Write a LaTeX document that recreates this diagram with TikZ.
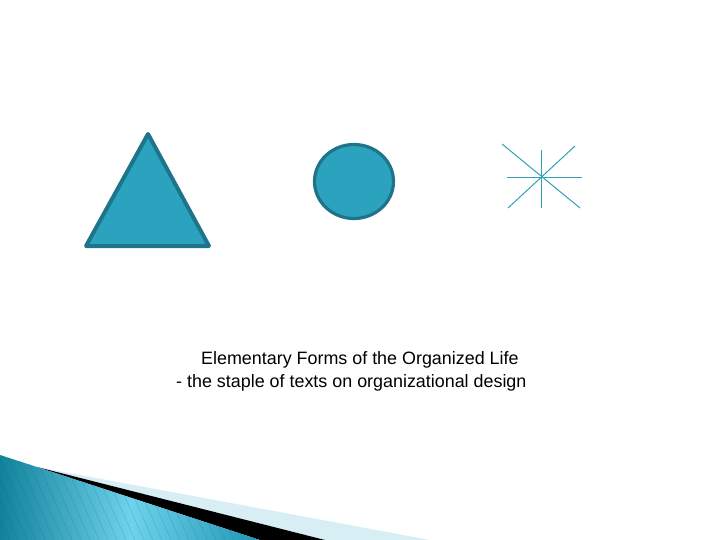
\documentclass[tikz,border=0pt]{standalone}
\usepackage{fontspec}
\setmainfont{Liberation Sans}
\definecolor{shapefill}{RGB}{44,163,190}
\definecolor{shapeedge}{RGB}{30,116,137}
\definecolor{starline}{RGB}{50,160,182}
\definecolor{tealdark}{RGB}{18,130,155}
\definecolor{teallight}{RGB}{110,210,235}
\definecolor{tealmid}{RGB}{30,150,180}
\definecolor{paleblue}{RGB}{215,238,245}
\tikzset{
  shapestyle/.style={fill=shapefill, draw=shapeedge, line width=4pt, line join=round},
  starstyle/.style={draw=starline, line width=1pt},
  starbar/.style={fill=starline},
  captext/.style={anchor=base west, inner sep=0pt, font=\fontsize{17.9}{21}\selectfont}
}
\begin{document}
\begin{tikzpicture}[x=1pt,y=-1pt]
\useasboundingbox (0,0) rectangle (720,540);
% triangle
\draw[shapestyle] (148,134) -- (209,246) -- (86,246) -- cycle;
% circle
\draw[shapestyle, line width=3.2pt] (354,181.5) ellipse [x radius=39.5, y radius=37];
% star
\fill[starbar] (507,176.6) rectangle (582,178.0);
\fill[starbar] (540.8,150) rectangle (542.2,208);
\draw[starstyle] (502,144) -- (580,208);
\draw[starstyle] (575,146) -- (508,208);
% caption
\node[captext] (l1) at (201,364) {Elementary Forms of the Organized Life};
\node[captext] (l2) at (176,387) {- the staple of texts on organizational design};
% bottom decoration
\fill[paleblue] (37,467) -- (430,540) -- (325,540) -- cycle;
\fill[black] (37,467) -- (325,540) -- (260,540) -- cycle;
\begin{scope}
\clip (0,455) -- (37,467) -- (260,540) -- (0,540) -- cycle;
\shade[left color=tealdark, right color=tealmid, middle color=teallight] (0,450) rectangle (262,540);
\foreach \i in {-40,-31,...,260} {
  \draw[tealdark!70!black, opacity=0.25, line width=0.4pt] (\i,450) -- (\i+40,540);
}
\end{scope}
\end{tikzpicture}
\end{document}
